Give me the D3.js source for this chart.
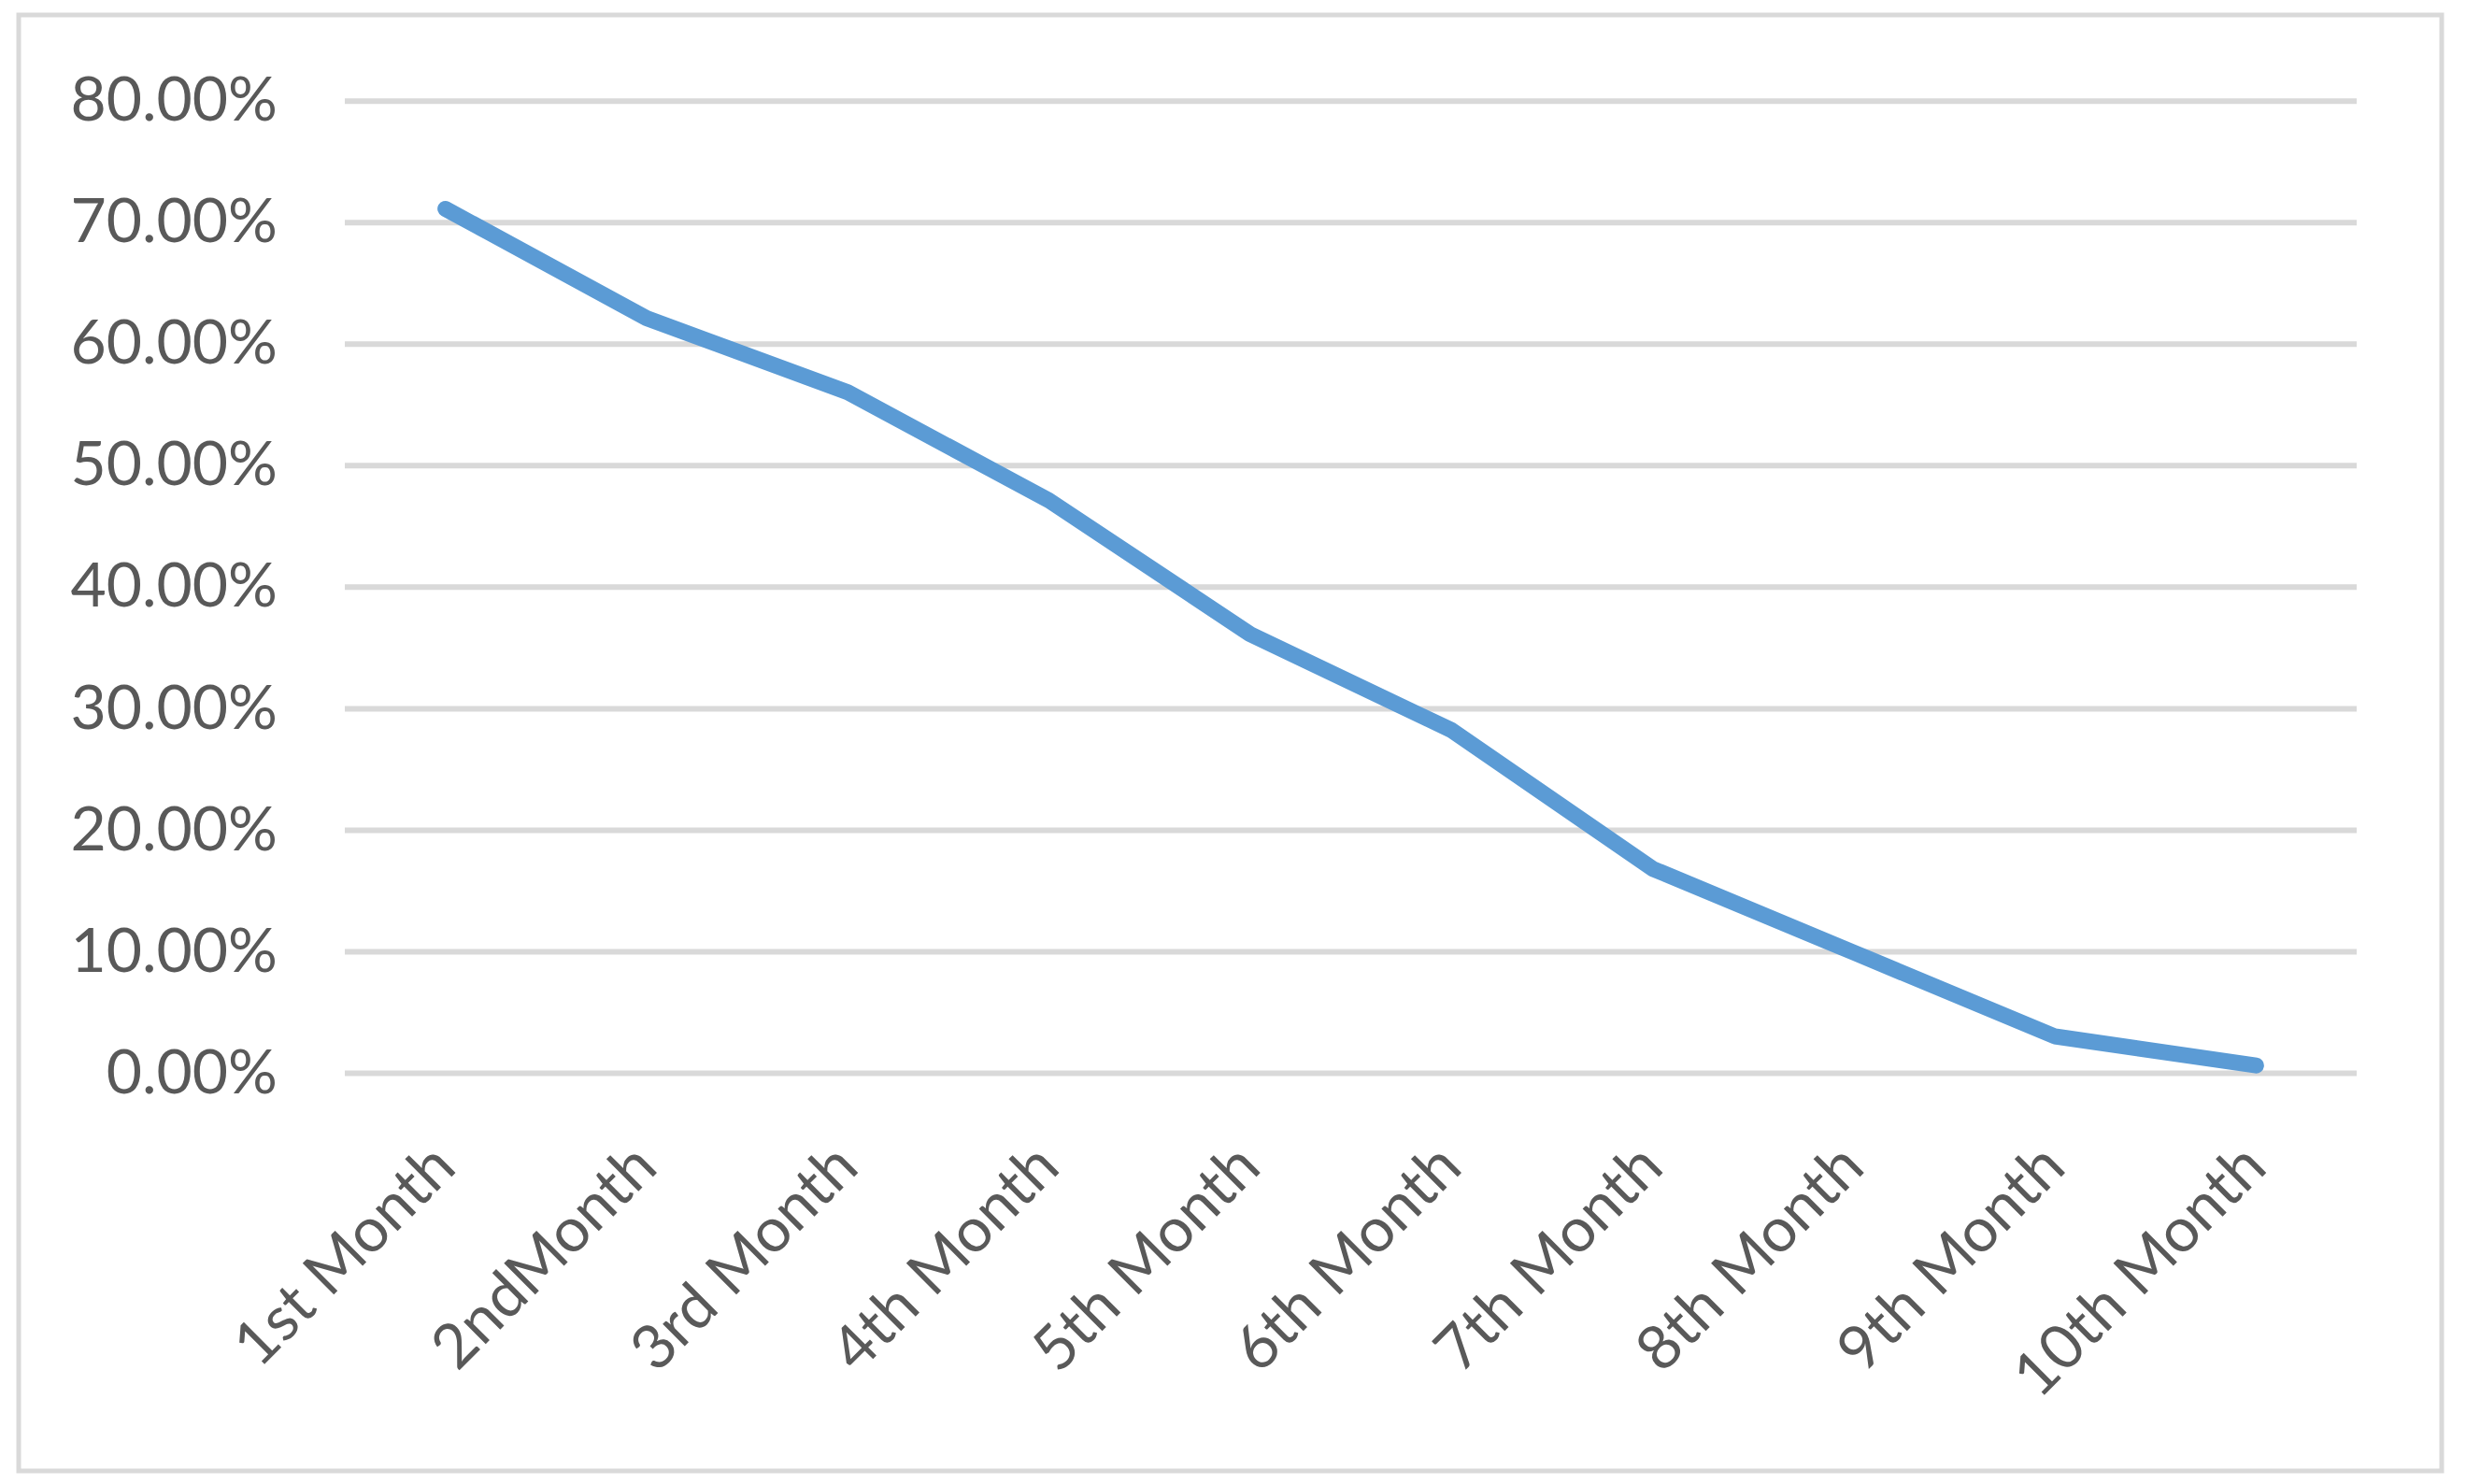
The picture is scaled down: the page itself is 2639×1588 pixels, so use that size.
<!DOCTYPE html>
<html>
<head>
<meta charset="utf-8">
<script src="https://cdn.jsdelivr.net/npm/d3@7"></script>
<style>
    body { margin: 0; background: #fff; }
    .grid line { stroke: #d9d9d9; stroke-width: 6; }
    .tick text { fill: #595959; font-family: Lato, "Open Sans", sans-serif; font-size: 66px; }
</style>
</head>
<body>
<div id="chart"></div>
<script>
// dados do grafico
var months = ["1st Month", "2ndMonth", "3rd Month", "4th Month", "5th Month",
    "6th Month", "7th Month", "8th Month", "9th Month", "10th Month"];
var rates = [0.711, 0.621, 0.560, 0.471, 0.361, 0.282, 0.168, 0.099, 0.030, 0.006];
var yTicks = [0, 0.1, 0.2, 0.3, 0.4, 0.5, 0.6, 0.7, 0.8];

var myApp = {};

myApp.width = 2639;
myApp.height = 1588;
myApp.margins = {top: 107.7, bottom: 440, left: 369, right: 117};
myApp.cw = myApp.width - myApp.margins.left - myApp.margins.right;
myApp.ch = 1148 - myApp.margins.top;

myApp.appendSvg = function (div) {
    let node = d3.select(div).append('svg')
        .attr('width', myApp.width)
        .attr('height', myApp.height);

    node.append('rect')
        .attr('width', myApp.width)
        .attr('height', myApp.height)
        .attr('fill', 'white');

    // moldura cinza do grafico
    node.append('rect')
        .attr('x', 20)
        .attr('y', 16)
        .attr('width', 2593)
        .attr('height', 1558)
        .attr('fill', 'none')
        .attr('stroke', '#d9d9d9')
        .attr('stroke-width', 5);
    return node;
}

myApp.appendChartGroup = function (svg) {
    return svg.append('g')
        .attr('transform', 'translate(' + myApp.margins.left + ',' + myApp.margins.top + ')');
}

myApp.createAxes = function (chart) {
    myApp.xScale = d3.scaleBand().domain(months).range([0, myApp.cw]);
    myApp.yScale = d3.scaleLinear().domain([0, 0.8]).range([myApp.ch, 0]);

    // linhas de grade
    chart.append('g')
        .attr('class', 'grid')
        .call(d3.axisLeft(myApp.yScale).tickValues(yTicks).tickSize(-myApp.cw).tickFormat(''))
        .call(g => g.select('.domain').remove());

    let yAxisGroup = chart.append('g')
        .attr('class', 'yAxis')
        .call(d3.axisLeft(myApp.yScale).tickValues(yTicks).tickSize(0).tickPadding(72)
            .tickFormat(d3.format('.2%')));
    yAxisGroup.select('.domain').remove();

    let xAxisGroup = chart.append('g')
        .attr('class', 'xAxis')
        .attr('transform', 'translate(0,' + myApp.ch + ')')
        .call(d3.axisBottom(myApp.xScale).tickSize(0));
    xAxisGroup.select('.domain').remove();
    xAxisGroup.selectAll('text')
        .attr('x', 0)
        .attr('y', 0)
        .attr('dy', 0)
        .attr('transform', 'translate(14,104) rotate(-45)')
        .style('text-anchor', 'end');
}

myApp.appendLine = function (chart) {
    let line = d3.line()
        .x((d, i) => myApp.xScale(months[i]) + myApp.xScale.bandwidth() / 2)
        .y(d => myApp.yScale(d));

    chart.append('path')
        .datum(rates)
        .attr('fill', 'none')
        .attr('stroke', '#5b9bd5')
        .attr('stroke-width', 17)
        .attr('stroke-linecap', 'round')
        .attr('stroke-linejoin', 'round')
        .attr('d', line);
}

myApp.run = function () {
    let svg = myApp.appendSvg('#chart');
    let chart = myApp.appendChartGroup(svg);
    myApp.createAxes(chart);
    myApp.appendLine(chart);
}

window.onload = myApp.run;
</script>
</body>
</html>
